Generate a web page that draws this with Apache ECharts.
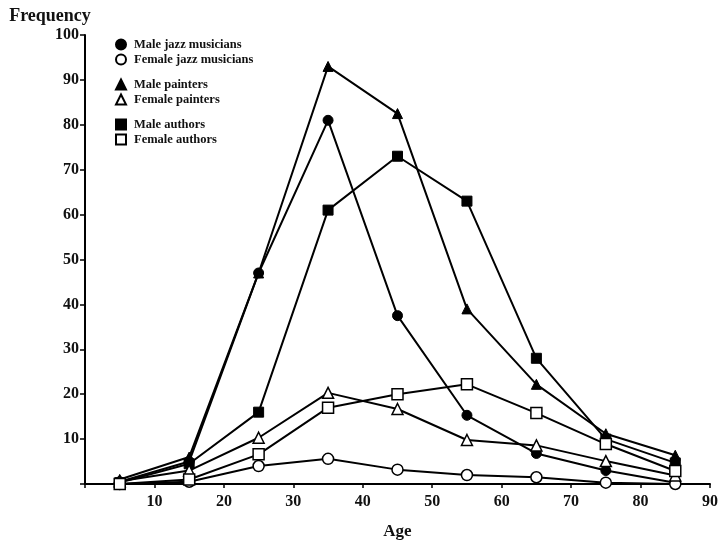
<!DOCTYPE html>
<html>
<head>
<meta charset="utf-8">
<script src="https://cdn.jsdelivr.net/npm/echarts@6/dist/echarts.min.js"></script>
<style>
  html, body { margin: 0; padding: 0; background: #fff; }
  #chart { width: 722px; height: 547px; }
</style>
</head>
<body>
<div id="chart"></div>
<script>
// Age-group midpoints (years)
const ages = [5, 15, 25, 35, 45, 55, 65, 75, 85];

// Frequency of peak-contribution ages per group
const maleJazz      = [0.5, 5, 47, 81, 37.5, 15.3, 6.8, 3, 0.3];
const femaleJazz    = [0, 0.5, 4, 5.6, 3.2, 2, 1.5, 0.3, 0];
const malePainters  = [1, 6, 47, 93, 82.5, 39, 22.2, 11.2, 6.4];
const femalePainters= [0.6, 3, 10.3, 20.3, 16.7, 9.8, 8.6, 5.1, 1.9];
const maleAuthors   = [0.3, 4.5, 16, 61, 73, 63, 28, 10, 4.7];
const femaleAuthors = [0, 1, 6.6, 17, 20, 22.2, 15.8, 8.9, 2.9];

const seriesNames = [
  'Male jazz musicians', 'Female jazz musicians',
  'Male painters', 'Female painters',
  'Male authors', 'Female authors'
];

const FONT = "'Liberation Serif', 'Times New Roman', serif";

function pairs(values) {
  return ages.map((a, i) => [a, values[i]]);
}

function makeSeries(name, values, symbol, filled, size) {
  return {
    name: name,
    type: 'line',
    data: pairs(values),
    symbol: symbol,
    symbolSize: size,
    showAllSymbol: true,
    lineStyle: { color: '#000', width: 2 },
    itemStyle: filled
      ? { color: '#000', borderColor: '#000', borderWidth: 1 }
      : { color: '#fff', borderColor: '#000', borderWidth: 1.5 },
    emphasis: { disabled: true },
    z: filled ? 3 : 4
  };
}

function legendBlock(top, names, icons) {
  return {
    orient: 'vertical',
    left: 115,
    top: top,
    padding: 0,
    itemGap: 2,
    itemWidth: 10,
    itemHeight: 10,
    selectedMode: false,
    textStyle: { fontFamily: FONT, fontSize: 12.5, fontWeight: 'bold', color: '#111', padding: [0, 0, 0, 3] },
    data: names.map((n, i) => ({ name: n, icon: icons[i] }))
  };
}

const chart = echarts.init(document.getElementById('chart'), null, { renderer: 'canvas' });

chart.setOption({
  animation: false,
  backgroundColor: '#fff',
  grid: { left: 85, right: 12, top: 35, bottom: 63, containLabel: false },
  legend: [
    legendBlock(38, seriesNames.slice(0, 2), ['circle', 'circle']),
    legendBlock(78, seriesNames.slice(2, 4), ['triangle', 'triangle']),
    legendBlock(118, seriesNames.slice(4, 6), ['rect', 'rect'])
  ],
  xAxis: {
    type: 'value',
    min: 0,
    max: 90,
    interval: 10,
    name: 'Age',
    nameLocation: 'middle',
    nameGap: 39,
    nameTextStyle: { fontFamily: FONT, fontSize: 17, fontWeight: 'bold', color: '#111' },
    axisLine: { show: true, lineStyle: { color: '#000', width: 2 } },
    axisTick: { show: true, length: 4, lineStyle: { color: '#000', width: 1.5 } },
    axisLabel: {
      fontFamily: FONT, fontSize: 16, fontWeight: 'bold', color: '#111', margin: 10,
      formatter: v => (v === 0 ? '' : String(v))
    },
    splitLine: { show: false }
  },
  yAxis: {
    type: 'value',
    min: 0,
    max: 100,
    interval: 10,
    name: 'Frequency',
    nameLocation: 'end',
    nameGap: 10,
    nameTextStyle: { fontFamily: FONT, fontSize: 18, fontWeight: 'bold', color: '#111', align: 'center', padding: [0, 70, 0, 0] },
    axisLine: { show: true, lineStyle: { color: '#000', width: 2 } },
    axisTick: { show: true, length: 5, lineStyle: { color: '#000', width: 1.5 } },
    axisLabel: {
      fontFamily: FONT, fontSize: 16, fontWeight: 'bold', color: '#111', margin: 6,
      formatter: v => (v === 0 ? '' : String(v))
    },
    splitLine: { show: false }
  },
  series: [
    makeSeries(seriesNames[0], maleJazz, 'circle', true, 10),
    makeSeries(seriesNames[1], femaleJazz, 'circle', false, 11),
    makeSeries(seriesNames[2], malePainters, 'triangle', true, 10),
    makeSeries(seriesNames[3], femalePainters, 'triangle', false, 11),
    makeSeries(seriesNames[4], maleAuthors, 'rect', true, 10),
    makeSeries(seriesNames[5], femaleAuthors, 'rect', false, 11)
  ]
});
</script>
</body>
</html>
